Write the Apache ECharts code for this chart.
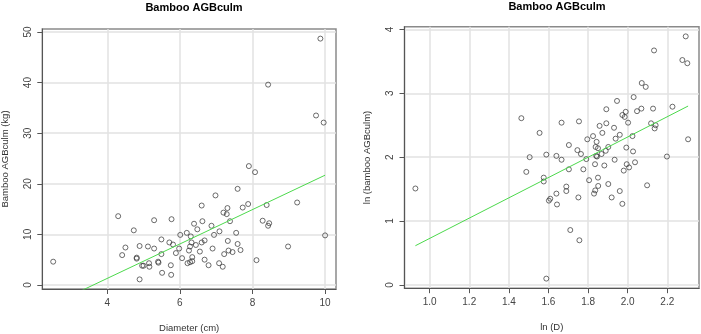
<!DOCTYPE html>
<html><head><meta charset="utf-8">
<script src="https://cdn.jsdelivr.net/npm/echarts@6/dist/echarts.min.js"></script>
<style>html,body{margin:0;padding:0;background:#fff}#c{width:701px;height:334px}</style>
</head><body><div id="c"></div>
<script>
const titleText = 'Bamboo AGBculm';
const leftXName = 'Diameter (cm)';
const leftYName = 'Bamboo AGBculm (kg)';
const rightXName = 'ln (D)';
const rightYName = 'ln (bamboo AGBculm)';
const leftXTicks = [4, 6, 8, 10];
const leftYTicks = [0, 10, 20, 30, 40, 50];
const rightXTicks = [1.0, 1.2, 1.4, 1.6, 1.8, 2.0, 2.2];
const rightYTicks = [0, 1, 2, 3, 4];

const diameter = [2.51,4.30,4.41,4.50,4.73,4.81,4.81,4.89,4.89,4.96,5.00,5.12,5.15,5.16,5.29,5.29,5.40,5.41,5.49,5.49,5.51,5.71,5.75,5.77,5.76,5.81,5.89,5.98,6.01,6.06,6.19,6.21,6.25,6.28,6.28,6.30,6.32,6.34,6.34,6.39,6.44,6.48,6.55,6.60,6.60,6.62,6.68,6.68,6.79,6.87,6.90,6.94,6.98,7.08,7.09,7.18,7.20,7.22,7.29,7.31,7.32,7.34,7.38,7.45,7.55,7.59,7.59,7.67,7.73,7.88,7.90,8.07,8.11,8.28,8.39,8.43,8.43,8.46,8.98,9.23,9.75,9.87,9.96,10.00];
const agb = [4.6,13.6,5.9,7.4,10.8,5.2,5.4,7.7,1.1,3.8,3.8,7.6,4.3,3.6,12.8,7.2,4.6,4.4,9.0,6.1,2.4,8.4,3.9,13.0,2.0,8.0,6.3,7.2,9.9,5.3,10.3,4.3,6.8,7.6,4.5,9.6,8.4,5.5,4.7,12.1,7.9,11.0,6.6,15.7,8.4,12.6,8.8,5.0,3.9,11.7,7.2,9.9,17.7,4.3,10.6,3.6,14.3,6.1,14.0,15.2,8.7,6.8,12.6,6.5,10.3,19.0,8.1,6.9,15.3,16.0,23.5,22.3,4.9,12.7,15.8,39.6,11.7,12.2,7.6,16.3,33.5,48.7,32.1,9.8];

const lnD = [0.928,1.463,1.488,1.505,1.555,1.576,1.576,1.589,1.589,1.602,1.609,1.640,1.640,1.643,1.666,1.666,1.690,1.690,1.703,1.703,1.710,1.746,1.751,1.754,1.756,1.764,1.776,1.791,1.796,1.805,1.825,1.830,1.835,1.836,1.838,1.841,1.843,1.845,1.850,1.850,1.851,1.858,1.868,1.872,1.882,1.889,1.892,1.892,1.902,1.902,1.919,1.931,1.934,1.939,1.946,1.960,1.960,1.973,1.973,1.980,1.985,1.990,1.993,1.995,2.002,2.007,2.024,2.027,2.030,2.037,2.047,2.069,2.071,2.091,2.098,2.118,2.128,2.133,2.136,2.141,2.198,2.226,2.276,2.293,2.301,2.305];
const lnAgb = [1.51,2.61,1.77,2.00,2.38,1.68,1.62,2.04,0.10,1.32,1.35,2.02,1.43,1.26,2.54,1.96,1.54,1.47,2.19,1.81,0.86,2.11,1.37,2.56,0.70,2.05,1.81,1.97,2.28,1.64,2.33,1.43,1.89,1.48,2.16,2.02,2.24,2.01,2.14,1.68,1.55,2.49,2.05,2.38,1.87,2.10,2.75,2.53,2.16,1.58,1.37,2.46,1.96,2.29,2.88,2.35,1.47,2.66,1.27,1.79,2.63,2.71,2.15,1.89,2.54,1.84,2.33,2.09,2.94,1.92,2.72,2.76,3.16,3.10,1.56,2.53,2.76,3.67,2.45,2.50,2.01,2.79,3.52,3.89,3.47,2.28];

// fitted lines: [intercept, slope]
const leftFit = [-12.3, 3.40];
const rightFit = [-0.858, 1.587];

const zip = (a, b) => a.map((v, i) => [v, b[i]]);
const fitLine = (xs, f) => {
  const lo = Math.min(...xs), hi = Math.max(...xs);
  return [[lo, f[0] + f[1] * lo], [hi, f[0] + f[1] * hi]];
};

const FONT = 'Liberation Sans, Arial, sans-serif';
const gridLine = { show: true, lineStyle: { color: '#e2e2e2', width: 1.5 } };
const axisLineS = { show: true, onZero: false, lineStyle: { color: '#555', width: 1 } };

function xAxis(grid, min, max, ticks, name, fmt) {
  return {
    type: 'value', gridIndex: grid, min: min, max: max,
    axisLine: axisLineS,
    axisTick: { show: true, inside: false, length: 5, customValues: ticks, lineStyle: { color: '#555' } },
    axisLabel: { customValues: ticks, margin: 9, fontSize: 10, color: '#444', fontFamily: FONT, formatter: fmt },
    splitLine: gridLine,
    name: name, nameLocation: 'middle', nameGap: 34,
    nameTextStyle: { fontSize: 9.5, color: '#333', fontFamily: FONT }
  };
}
function yAxis(grid, min, max, ticks, name) {
  return {
    type: 'value', gridIndex: grid, min: min, max: max,
    axisLine: axisLineS,
    axisTick: { show: true, inside: false, length: 5, customValues: ticks, lineStyle: { color: '#555' } },
    axisLabel: { customValues: ticks, rotate: 90, margin: 9, fontSize: 10, color: '#444', fontFamily: FONT },
    splitLine: gridLine,
    name: name, nameLocation: 'middle', nameRotate: 90, nameGap: 32,
    nameTextStyle: { fontSize: 9.5, color: '#333', fontFamily: FONT }
  };
}

const scatterStyle = { color: 'rgba(0,0,0,0)', borderColor: '#333', borderWidth: 0.9 };
const chart = echarts.init(document.getElementById('c'), null, { renderer: 'canvas' });
chart.setOption({
  animation: false,
  backgroundColor: '#fff',
  title: [
    { text: titleText, left: 189, top: -3, textAlign: 'center', textStyle: { fontSize: 11, fontWeight: 'bold', color: '#000', fontFamily: FONT } },
    { text: titleText, left: 552, top: -4, textAlign: 'center', textStyle: { fontSize: 11, fontWeight: 'bold', color: '#000', fontFamily: FONT } }
  ],
  grid: [
    { left: 42.3, top: 29, width: 293.7, height: 260, containLabel: false, outerBoundsMode: 'none', show: true, borderColor: '#8a8a8a', borderWidth: 1.5, backgroundColor: 'transparent' },
    { left: 404.5, top: 26.8, width: 294.5, height: 261.4, containLabel: false, outerBoundsMode: 'none', show: true, borderColor: '#8a8a8a', borderWidth: 1.5, backgroundColor: 'transparent' }
  ],
  xAxis: [
    xAxis(0, 2.21, 10.30, leftXTicks, leftXName, v => String(v)),
    xAxis(1, 0.873, 2.360, rightXTicks, rightXName, v => v.toFixed(1))
  ],
  yAxis: [
    yAxis(0, -0.8, 50.6, leftYTicks, leftYName),
    yAxis(1, -0.05, 4.04, rightYTicks, rightYName)
  ],
  series: [
    { type: 'scatter', xAxisIndex: 0, yAxisIndex: 0, data: zip(diameter, agb), symbol: 'circle', symbolSize: 5, itemStyle: scatterStyle },
    { type: 'line', xAxisIndex: 0, yAxisIndex: 0, data: fitLine(diameter, leftFit), showSymbol: false, clip: true, lineStyle: { color: '#4cd94c', width: 1 } },
    { type: 'scatter', xAxisIndex: 1, yAxisIndex: 1, data: zip(lnD, lnAgb), symbol: 'circle', symbolSize: 5, itemStyle: scatterStyle },
    { type: 'line', xAxisIndex: 1, yAxisIndex: 1, data: fitLine(lnD, rightFit), showSymbol: false, clip: true, lineStyle: { color: '#4cd94c', width: 1 } }
  ]
});
</script></body></html>
